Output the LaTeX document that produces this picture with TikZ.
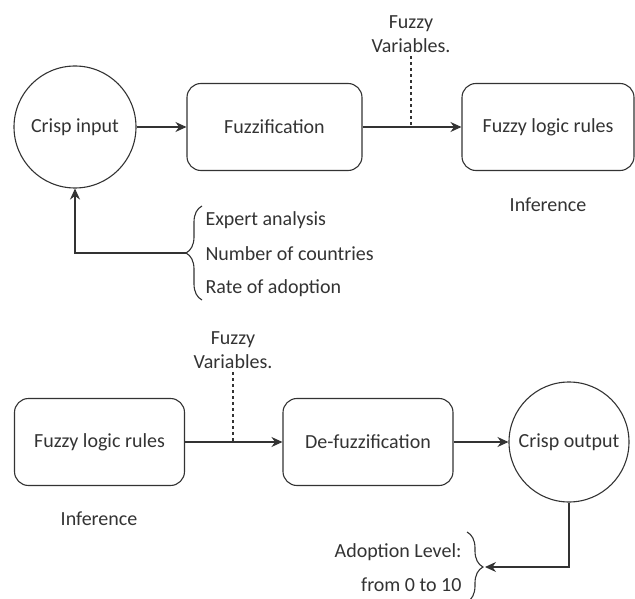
\documentclass[tikz,border=0pt]{standalone}
\usepackage{fontspec}
\setmainfont{Carlito}
\usetikzlibrary{arrows.meta,decorations.pathreplacing}

\begin{document}
\begin{tikzpicture}[x=1pt, y=-1pt, line width=1.1pt, color=black!80,
  font=\fontsize{20}{24}\selectfont,
  blockbox/.style={draw, rounded corners=14pt, minimum width=172pt, minimum height=87pt, inner sep=0pt},
  roundnode/.style={draw, circle, minimum size=122pt, inner sep=0pt},
  flow/.style={-{Stealth[length=11pt,width=10pt]}},
  tapline/.style={dash pattern=on 3pt off 3pt},
  curly/.style={decorate, decoration={brace, amplitude=16pt}},
  listtext/.style={inner sep=0pt}]
\useasboundingbox (0,0) rectangle (635,599);
% top row
\node[roundnode] (crispin) at (75,127) {Crisp input};
\node[blockbox, minimum width=175pt] (fuzzif) at (274.5,127) {Fuzzification};
\node[blockbox] (rulesa) at (548,127) {Fuzzy logic rules};
\node (infera) at (548,205) {Inference};
\node[align=center] (varsa) at (411,34) {Fuzzy\\Variables.};
\coordinate (taba) at (411,127);
\draw[flow] (crispin) -- (fuzzif);
\draw[flow] (fuzzif) -- (rulesa);
\draw[tapline] (varsa) -- (taba);
% inputs
\draw[curly] (202,300) -- (202,206);
\node[listtext, anchor=west] (expert) at (205,220) {Expert analysis};
\node[listtext, anchor=west] (countries) at (205,254) {Number of countries};
\node[listtext, anchor=west] (rate) at (205,288) {Rate of adoption};
\coordinate (tipa) at (186,253);
\draw[flow] (tipa) -| (crispin);
% bottom row
\node[blockbox, minimum width=170pt] (rulesb) at (99.5,442) {Fuzzy logic rules};
\node[blockbox, minimum width=170pt] (defuzz) at (368,442) {De-fuzzification};
\node[roundnode, minimum size=120pt] (crispout) at (569,442) {Crisp output};
\node (inferb) at (99,519) {Inference};
\node[align=center] (varsb) at (233,350) {Fuzzy\\Variables.};
\coordinate (tabb) at (233,442);
\draw[flow] (rulesb) -- (defuzz);
\draw[flow] (defuzz) -- (crispout);
\draw[tapline] (varsb) -- (tabb);
% output
\draw[curly] (467,532) -- (467,602);
\node[listtext, anchor=east] (level) at (462,552) {Adoption Level:};
\node[listtext, anchor=east] (range) at (462,585) {from 0 to 10};
\coordinate (tipb) at (485,567);
\draw[flow] (crispout) |- (tipb);
\end{tikzpicture}
\end{document}
